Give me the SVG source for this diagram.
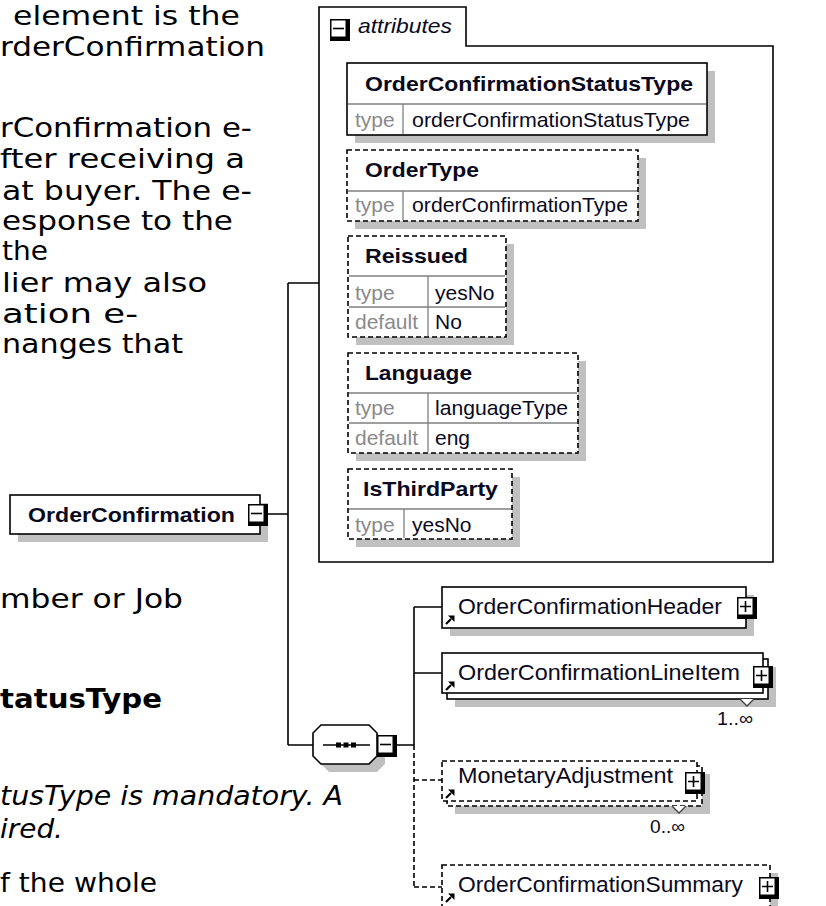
<svg xmlns="http://www.w3.org/2000/svg" width="826" height="906" viewBox="0 0 826 906">
<style>
.body{font-family:"DejaVu Sans",Verdana,sans-serif;font-size:27px;fill:#000}
.lbl{font-family:"Liberation Sans",Arial,sans-serif;font-size:21px;fill:#0a0a1e}
.ch{font-size:22px}
.b{font-weight:bold}
.i{font-style:italic}
.g{fill:#8a8a8a}
.box{fill:#fff;stroke:#000;stroke-width:1.6}
.dash{stroke-dasharray:5 3}
.sh{fill:#c0c0c0}
.grid{stroke:#808080;stroke-width:1.3;fill:none}
.conn{stroke:#000;stroke-width:1.6;fill:none}
.mult{font-family:"Liberation Sans",Arial,sans-serif;font-size:19px;fill:#0a0a1e}
</style>
<defs>
<g id="plus"><rect x="0" y="0" width="20" height="22" fill="#000"/><rect x="1.5" y="1.5" width="14" height="16" fill="#fff"/><path d="M3 9.5H14M8.5 4V15" stroke="#000" stroke-width="1.6"/></g>
<g id="minus"><rect x="0" y="0" width="20" height="22" fill="#000"/><rect x="1.5" y="1.5" width="14" height="16" fill="#fff"/><path d="M3 9.5H14" stroke="#000" stroke-width="1.6"/></g>
<g id="ref"><path d="M1 9L6 4" stroke="#000" stroke-width="2.2"/><polygon points="9.5,0.5 9.5,7 3,0.5" fill="#000"/></g>
</defs>

<g id="description">
<text class="body" x="13" y="25" textLength="227" lengthAdjust="spacingAndGlyphs">element is the</text>
<text class="body" x="0" y="56" textLength="265" lengthAdjust="spacingAndGlyphs">rderConfirmation</text>
<text class="body" x="0" y="137" textLength="252" lengthAdjust="spacingAndGlyphs">rConfirmation e-</text>
<text class="body" x="0" y="168" textLength="245" lengthAdjust="spacingAndGlyphs">fter receiving a</text>
<text class="body" x="2" y="200" textLength="250" lengthAdjust="spacingAndGlyphs">at buyer. The e-</text>
<text class="body" x="2" y="230" textLength="231" lengthAdjust="spacingAndGlyphs">esponse to the</text>
<text class="body" x="2" y="260" textLength="46" lengthAdjust="spacingAndGlyphs">the</text>
<text class="body" x="2" y="292" textLength="205" lengthAdjust="spacingAndGlyphs">lier may also</text>
<text class="body" x="2" y="323" textLength="136" lengthAdjust="spacingAndGlyphs">ation e-</text>
<text class="body" x="2" y="353" textLength="181" lengthAdjust="spacingAndGlyphs">nanges that</text>
<text class="body" x="0" y="608" textLength="183" lengthAdjust="spacingAndGlyphs">mber or Job</text>
<text class="body b" x="0" y="708" textLength="162" lengthAdjust="spacingAndGlyphs">tatusType</text>
<text class="body i" x="0" y="805" textLength="343" lengthAdjust="spacingAndGlyphs">tusType is mandatory. A</text>
<text class="body i" x="0" y="838" textLength="63" lengthAdjust="spacingAndGlyphs">ired.</text>
<text class="body" x="0" y="892" textLength="157" lengthAdjust="spacingAndGlyphs">f the whole</text>
</g>

<g id="connectors">
<path class="conn" d="M267 514H288M288 283V745M288 283H319M288 745H313M397 745H414M414 607V745M414 607H442M414 673H442"/>
<path class="conn dash" d="M414 745V887M414 780H442M414 887H442"/>
</g>

<g id="attributes">
<path d="M319 7H466V46H773V562H319Z" fill="none" stroke="#000" stroke-width="1.6"/>
<use href="#minus" x="330" y="19"/>
<text class="lbl i" x="358" y="33" font-size="18" textLength="94" lengthAdjust="spacingAndGlyphs">attributes</text>
</g>

<g id="attr-OrderConfirmationStatusType">
<rect class="sh" x="355" y="71" width="360" height="72"/>
<rect class="box" x="347" y="63" width="360" height="72"/>
<path class="grid" d="M348 104H706M403 104V134"/>
<text class="lbl b" x="365" y="91" textLength="328" lengthAdjust="spacingAndGlyphs">OrderConfirmationStatusType</text>
<text class="lbl g" x="355" y="127">type</text>
<text class="lbl" x="412" y="127" textLength="278" lengthAdjust="spacingAndGlyphs">orderConfirmationStatusType</text>
</g>

<g id="attr-OrderType">
<rect class="sh" x="355" y="158" width="291" height="71"/>
<rect class="box dash" x="347" y="150" width="291" height="71"/>
<path class="grid" d="M348 191H637M403 191V220"/>
<text class="lbl b" x="365" y="177" textLength="114" lengthAdjust="spacingAndGlyphs">OrderType</text>
<text class="lbl g" x="355" y="212">type</text>
<text class="lbl" x="412" y="212" textLength="216" lengthAdjust="spacingAndGlyphs">orderConfirmationType</text>
</g>

<g id="attr-Reissued">
<rect class="sh" x="356" y="244" width="158" height="101"/>
<rect class="box dash" x="348" y="236" width="158" height="101"/>
<path class="grid" d="M349 276H505M349 307H505M428 276V336"/>
<text class="lbl b" x="365" y="263" textLength="103" lengthAdjust="spacingAndGlyphs">Reissued</text>
<text class="lbl g" x="355" y="300">type</text>
<text class="lbl" x="435" y="300">yesNo</text>
<text class="lbl g" x="355" y="329">default</text>
<text class="lbl" x="435" y="329">No</text>
</g>

<g id="attr-Language">
<rect class="sh" x="356" y="361" width="230" height="100"/>
<rect class="box dash" x="348" y="353" width="230" height="100"/>
<path class="grid" d="M349 393H577M349 423H577M428 393V452"/>
<text class="lbl b" x="365" y="380" textLength="107" lengthAdjust="spacingAndGlyphs">Language</text>
<text class="lbl g" x="355" y="415">type</text>
<text class="lbl" x="435" y="415" textLength="133" lengthAdjust="spacingAndGlyphs">languageType</text>
<text class="lbl g" x="355" y="445">default</text>
<text class="lbl" x="435" y="445">eng</text>
</g>

<g id="attr-IsThirdParty">
<rect class="sh" x="356" y="477" width="164" height="70"/>
<rect class="box dash" x="348" y="469" width="164" height="70"/>
<path class="grid" d="M349 509H511M404 509V538"/>
<text class="lbl b" x="363" y="496" textLength="135" lengthAdjust="spacingAndGlyphs">IsThirdParty</text>
<text class="lbl g" x="355" y="532">type</text>
<text class="lbl" x="412" y="532">yesNo</text>
</g>

<g id="OrderConfirmation">
<rect class="sh" x="18" y="503" width="250" height="39"/>
<rect class="box" x="10" y="495" width="250" height="39"/>
<text class="lbl b" x="28" y="522" textLength="207" lengthAdjust="spacingAndGlyphs">OrderConfirmation</text>
<use href="#minus" x="248" y="504"/>
</g>

<g id="sequence">
<polygon class="sh" points="329,733 377,733 385,741 385,764 377,772 329,772 321,764 321,741"/>
<polygon class="box" points="321,725 369,725 377,733 377,756 369,764 321,764 313,756 313,733"/>
<path d="M323 745H370" stroke="#000" stroke-width="1.6"/>
<rect x="336" y="742.5" width="5" height="5" fill="#000"/>
<rect x="343.5" y="742.5" width="5" height="5" fill="#000"/>
<rect x="351" y="742.5" width="5" height="5" fill="#000"/>
<use href="#minus" x="377" y="735"/>
</g>

<g id="OrderConfirmationHeader">
<rect class="sh" x="450" y="595" width="304" height="41"/>
<rect class="box" x="442" y="587" width="304" height="41"/>
<use href="#ref" x="445" y="615"/>
<text class="lbl ch" x="458" y="614" textLength="264" lengthAdjust="spacingAndGlyphs">OrderConfirmationHeader</text>
<use href="#plus" x="737" y="597"/>
</g>

<g id="OrderConfirmationLineItem">
<rect class="sh" x="455" y="667" width="321" height="40"/>
<rect class="box" x="447" y="659" width="321" height="40"/>
<rect class="box" x="442" y="653" width="321" height="40"/>
<use href="#ref" x="445" y="681"/>
<text class="lbl ch" x="458" y="680" textLength="282" lengthAdjust="spacingAndGlyphs">OrderConfirmationLineItem</text>
<use href="#plus" x="753" y="666"/>
<polyline points="740,699 747,706 754,699" fill="#fff" stroke="#404040" stroke-width="1.3"/>
<text class="mult" x="717" y="725" textLength="36" lengthAdjust="spacingAndGlyphs">1..∞</text>
</g>

<g id="MonetaryAdjustment">
<rect class="sh" x="455" y="774" width="255" height="40"/>
<rect class="box dash" x="447" y="766" width="255" height="40"/>
<rect class="box dash" x="442" y="761" width="255" height="40"/>
<use href="#ref" x="445" y="789"/>
<text class="lbl ch" x="458" y="783" textLength="215" lengthAdjust="spacingAndGlyphs">MonetaryAdjustment</text>
<use href="#plus" x="685" y="772"/>
<polyline points="672,806 679,813 686,806" fill="#fff" stroke="#404040" stroke-width="1.3"/>
<text class="mult" x="650" y="833" textLength="35" lengthAdjust="spacingAndGlyphs">0..∞</text>
</g>

<g id="OrderConfirmationSummary">
<rect class="sh" x="450" y="873" width="328" height="45"/>
<rect class="box dash" x="442" y="865" width="328" height="50"/>
<use href="#ref" x="445" y="893"/>
<text class="lbl ch" x="458" y="892" textLength="285" lengthAdjust="spacingAndGlyphs">OrderConfirmationSummary</text>
<use href="#plus" x="759" y="877"/>
</g>
</svg>
